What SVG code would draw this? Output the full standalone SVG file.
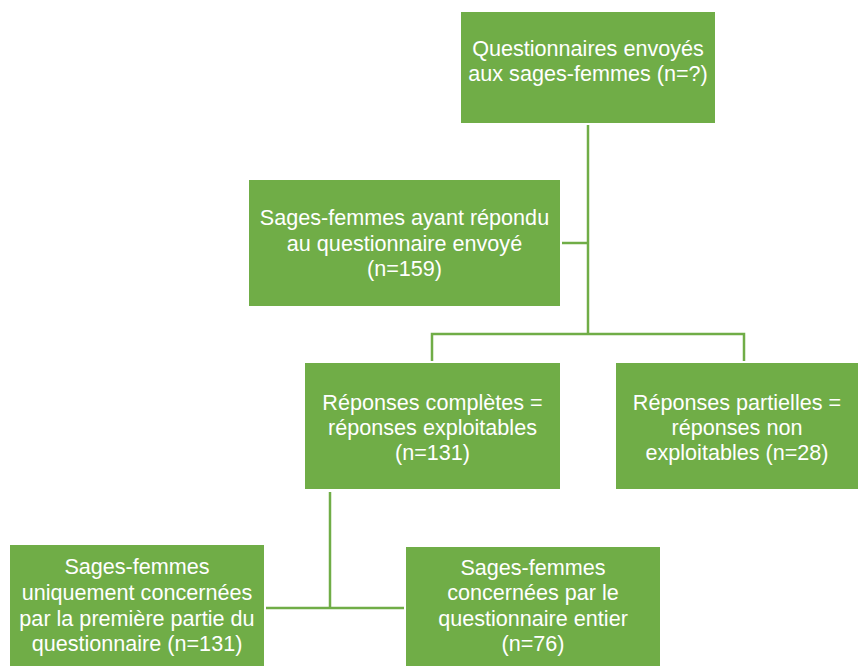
<svg xmlns="http://www.w3.org/2000/svg" width="858" height="666" viewBox="0 0 858 666">
<style>
.box{fill:#70AD47;}
.lbl{font-family:"Liberation Sans",Arial,sans-serif;font-size:21.6px;fill:#FFFFFF;text-anchor:middle;}
.con{stroke:#70AD47;stroke-width:2.5;fill:none;}
</style>
<rect width="858" height="666" fill="#FFFFFF"/>
<g id="connectors">
<path class="con" d="M588,125 V334"/>
<path class="con" d="M562,243 H588"/>
<path class="con" d="M432,361 V334 H744 V361"/>
<path class="con" d="M330,492 V608"/>
<path class="con" d="M266,608 H404"/>
</g>
<g id="n1">
<rect class="box" x="461" y="12" width="254" height="111"/>
<text class="lbl" x="588" y="56">Questionnaires envoyés</text>
<text class="lbl" x="588" y="81">aux sages-femmes (n=?)</text>
</g>
<g id="n2">
<rect class="box" x="249" y="180" width="311" height="126"/>
<text class="lbl" x="404.5" y="225">Sages-femmes ayant répondu</text>
<text class="lbl" x="404.5" y="251">au questionnaire envoyé</text>
<text class="lbl" x="404.5" y="276">(n=159)</text>
</g>
<g id="n3">
<rect class="box" x="305" y="363" width="255" height="126"/>
<text class="lbl" x="432.5" y="410">Réponses complètes =</text>
<text class="lbl" x="432.5" y="435">réponses exploitables</text>
<text class="lbl" x="432.5" y="460">(n=131)</text>
</g>
<g id="n4">
<rect class="box" x="616" y="363" width="242" height="126"/>
<text class="lbl" x="737" y="410">Réponses partielles =</text>
<text class="lbl" x="737" y="435">réponses non</text>
<text class="lbl" x="737" y="460">exploitables (n=28)</text>
</g>
<g id="n5">
<rect class="box" x="10" y="545" width="254" height="121"/>
<text class="lbl" x="137" y="574">Sages-femmes</text>
<text class="lbl" x="137" y="600">uniquement concernées</text>
<text class="lbl" x="137" y="626">par la première partie du</text>
<text class="lbl" x="137" y="651">questionnaire (n=131)</text>
</g>
<g id="n6">
<rect class="box" x="406" y="547" width="254" height="119"/>
<text class="lbl" x="533" y="575">Sages-femmes</text>
<text class="lbl" x="533" y="600">concernées par le</text>
<text class="lbl" x="533" y="626">questionnaire entier</text>
<text class="lbl" x="533" y="651">(n=76)</text>
</g>
</svg>
